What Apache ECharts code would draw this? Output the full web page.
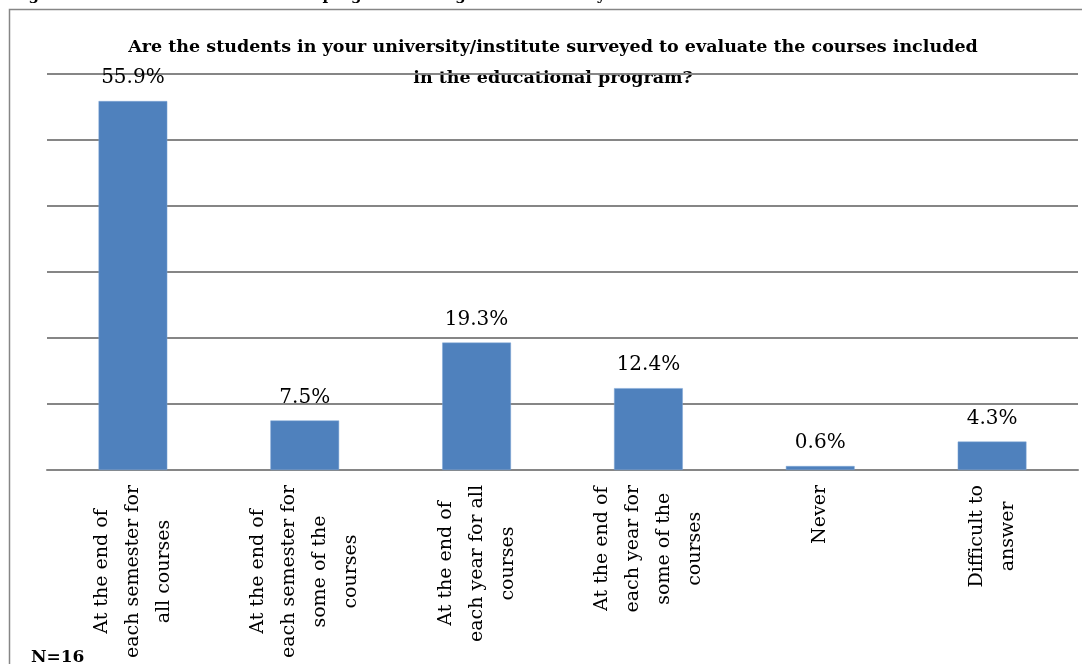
<!DOCTYPE html>
<html><head><meta charset="utf-8">
<script src="https://cdn.jsdelivr.net/npm/echarts@6/dist/echarts.min.js"></script>
<style>html,body{margin:0;padding:0;background:#fff}#c{width:1082px;height:664px}</style>
</head><body><div id="c"></div>
<script>
const categories = [
  "At the end of\neach semester for\nall courses",
  "At the end of\neach semester for\nsome of the\ncourses",
  "At the end of\neach year for all\ncourses",
  "At the end of\neach year for\nsome of the\ncourses",
  "Never",
  "Difficult to\nanswer"
];
const values = [55.9, 7.5, 19.3, 12.4, 0.6, 4.3];
const titleText = "Are the students in your university/institute surveyed to evaluate the courses included\nin the educational program?";
const captionText = "Diagram 16. Assessment of education programs through student surveys.";
const noteText = "N=16";

const FONT = "DejaVu Serif";
const chart = echarts.init(document.getElementById('c'), null, {renderer: 'canvas'});
chart.setOption({
  animation: false,
  backgroundColor: '#fff',
  graphic: [
    {type: 'rect', shape: {x: 9.5, y: 9.5, width: 1200, height: 800}, style: {fill: 'none', stroke: '#868686', lineWidth: 1.5}, silent: true},
    {type: 'text', x: 0, y: -11, style: {text: captionText, font: 'bold 15px "DejaVu Serif"', fill: '#000'}},
    {type: 'text', x: 553, y: 32, style: {text: titleText, font: 'bold 17.5px "DejaVu Serif"', fill: '#000', align: 'center', lineHeight: 31}},
    {type: 'text', x: 31, y: 649, style: {text: noteText, font: 'bold 17px "DejaVu Serif"', fill: '#000'}}
  ],
  grid: {left: 47, right: 4, top: 74, bottom: 194, containLabel: false, outerBoundsMode: 'none'},
  xAxis: {
    type: 'category', data: categories,
    axisLine: {lineStyle: {color: '#868686', width: 2}},
    axisTick: {show: false},
    axisLabel: {
      rotate: 90, margin: 15, interval: 0,
      formatter: v => v.split('\n').map(s => '{c|' + s + '}').join('\n'),
      rich: {c: {align: 'center', fontFamily: FONT, fontSize: 19, color: '#000', lineHeight: 31}}
    }
  },
  yAxis: {
    type: 'value', min: 0, max: 60, interval: 10,
    axisLabel: {show: false}, axisLine: {show: false}, axisTick: {show: false},
    splitLine: {lineStyle: {color: '#868686', width: 2}}
  },
  series: [{
    type: 'bar', data: values, barWidth: '40%',
    itemStyle: {color: '#4F81BD', borderColor: '#7FA6D6', borderWidth: 0.5},
    label: {show: true, position: 'top', distance: 13, formatter: p => p.value.toFixed(1) + '%',
      fontFamily: FONT, fontSize: 20, color: '#000'}
  }]
});
</script></body></html>
